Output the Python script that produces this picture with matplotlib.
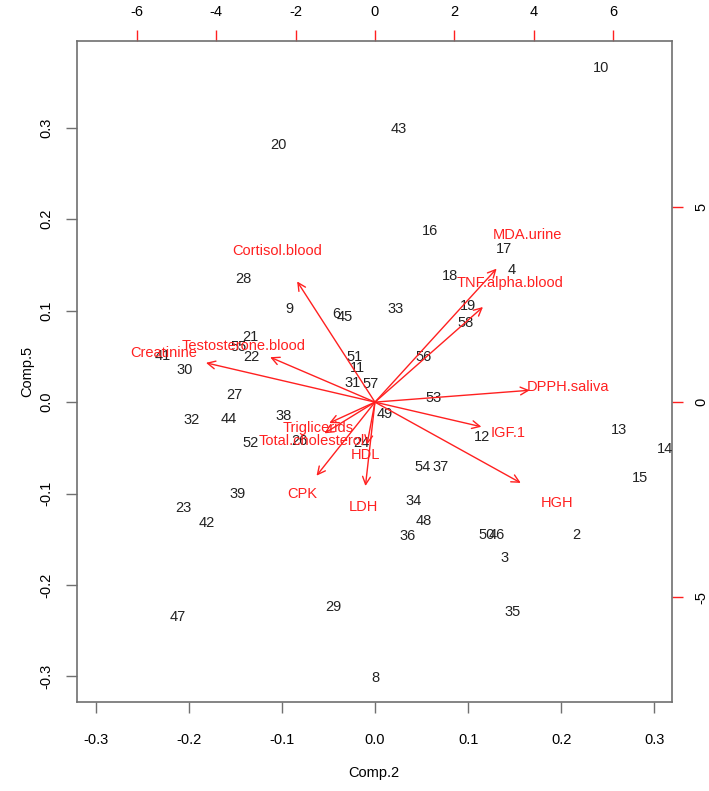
import matplotlib.pyplot as plt
import numpy as np

plt.rcParams['font.family'] = ['Liberation Sans', 'DejaVu Sans']

# observation scores (Comp.2, Comp.5)
obs_labels = ["10", "43", "20", "16", "17", "4", "18", "28", "9", "6", "45", "33",
              "19", "58", "21", "55", "22", "41", "30", "51", "11", "31", "57", "56",
              "53", "27", "32", "44", "38", "49", "12", "13", "14", "52", "26", "24",
              "54", "37", "15", "39", "34", "48", "36", "50", "46", "2", "23", "42",
              "3", "29", "35", "47", "8"]
obs_x = [0.243, 0.026, -0.104, 0.059, 0.139, 0.147, 0.081, -0.141, -0.092, -0.042, -0.032, 0.022,
         0.100, 0.097, -0.134, -0.147, -0.133, -0.228, -0.204, -0.022, -0.019, -0.024, -0.005, 0.052,
         0.063, -0.151, -0.197, -0.157, -0.098, 0.010, 0.115, 0.262, 0.312, -0.134, -0.081, -0.015,
         0.051, 0.071, 0.285, -0.147, 0.041, 0.052, 0.035, 0.120, 0.131, 0.216, -0.206, -0.181,
         0.139, -0.045, 0.148, -0.212, 0.0]
obs_y = [0.365, 0.299, 0.281, 0.187, 0.168, 0.144, 0.138, 0.135, 0.102, 0.096, 0.093, 0.102,
         0.105, 0.087, 0.071, 0.060, 0.049, 0.050, 0.035, 0.049, 0.037, 0.021, 0.020, 0.049,
         0.005, 0.008, -0.020, -0.019, -0.015, -0.013, -0.038, -0.031, -0.051, -0.045, -0.043, -0.045,
         -0.071, -0.071, -0.083, -0.100, -0.108, -0.130, -0.146, -0.145, -0.145, -0.145, -0.116, -0.132,
         -0.170, -0.224, -0.230, -0.235, -0.302]

# variable loadings (top / right axis units)
var_labels = ["Cortisol.blood", "Creatinine", "Testosterone.blood", "MDA.urine",
              "TNF.alpha.blood", "DPPH.saliva", "IGF.1", "HGH", "CPK", "LDH", "HDL",
              "Triglicerids", "Total.cholesterol"]
var_x = [-2.45, -5.32, -3.30, 3.83, 3.40, 4.87, 3.35, 4.59, -1.84, -0.30, -0.25, -1.44, -1.59]
var_y = [3.87, 1.26, 1.44, 4.28, 3.05, 0.38, -0.79, -2.59, -2.36, -2.69, -1.36, -0.67, -1.00]

ratio = 23.45  # loading units per score unit

fig = plt.figure(figsize=(7.09, 7.91), dpi=100)
ax = fig.add_axes([0.1086, 0.1125, 0.8392, 0.8357])
ax.set_xlim(-0.320, 0.319)
ax.set_ylim(-0.328, 0.395)

for lab, x, y in zip(obs_labels, obs_x, obs_y):
    ax.text(x, y, lab, ha="center", va="center", fontsize=10.5, color="#222222")

red = "#ff2020"
for lab, x, y in zip(var_labels, var_x, var_y):
    xs, ys = x / ratio, y / ratio
    ax.annotate("", xy=(0.8 * xs, 0.8 * ys), xytext=(0, 0),
                arrowprops=dict(arrowstyle="->", color=red, lw=1.0,
                                mutation_scale=14, shrinkA=0, shrinkB=0))
    ax.text(xs, ys, lab, ha="center", va="center", fontsize=10.5, color=red)

spine_col = "#707070"
for s in ax.spines.values():
    s.set_color(spine_col)
    s.set_linewidth(1.2)

ticks = [-0.3, -0.2, -0.1, 0.0, 0.1, 0.2, 0.3]
tick_txt = ["-0.3", "-0.2", "-0.1", "0.0", "0.1", "0.2", "0.3"]
ax.set_xticks(ticks)
ax.set_xticklabels(tick_txt)
ax.set_yticks(ticks)
ax.set_yticklabels(tick_txt, rotation=90, va="center")
ax.tick_params(axis="both", direction="out", length=8, color=spine_col,
               width=1.0, labelsize=10.5)
ax.tick_params(axis="x", pad=14)
ax.tick_params(axis="y", pad=9)

fig.text(374 / 709, 1 - 773 / 791, "Comp.2", ha="center", va="center", fontsize=10.5)
fig.text(27 / 709, 1 - 371 / 791, "Comp.5", ha="center", va="center",
         rotation=90, fontsize=10.5)

top = ax.secondary_xaxis("top", functions=(lambda v: v * ratio, lambda v: v / ratio))
top.set_xticks([-6, -4, -2, 0, 2, 4, 6])
top.set_xticklabels(["-6", "-4", "-2", "0", "2", "4", "6"])
top.tick_params(direction="out", length=8, color=red, width=1.0, labelsize=10.5, pad=8)
top.spines["top"].set_visible(False)

right = ax.secondary_yaxis("right", functions=(lambda v: v * ratio, lambda v: v / ratio))
right.set_yticks([-5, 0, 5])
right.set_yticklabels(["-5", "0", "5"], rotation=90, va="center")
right.tick_params(direction="out", length=8, color=red, width=1.0, labelsize=10.5, pad=8)
right.spines["right"].set_visible(False)

plt.savefig("out.png", dpi=100)
